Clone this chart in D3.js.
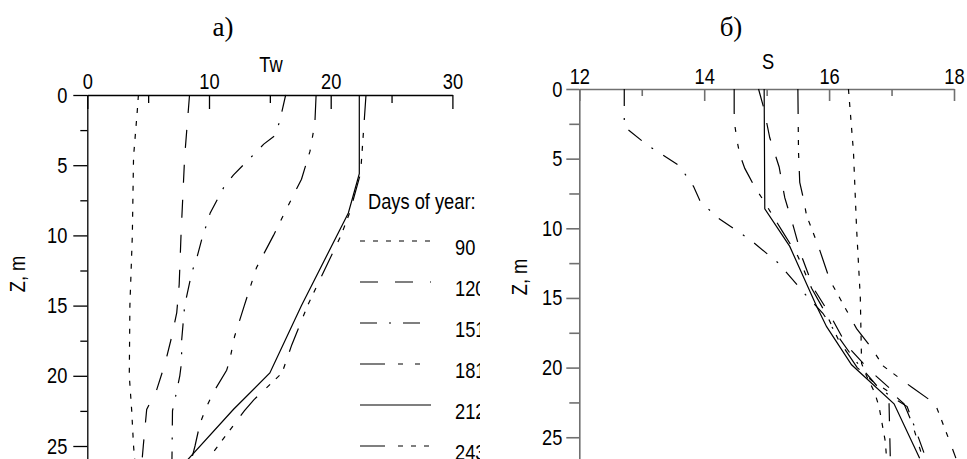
<!DOCTYPE html>
<html>
<head>
<meta charset="utf-8">
<script src="https://cdn.jsdelivr.net/npm/d3@7"></script>
<style>
  body { margin: 0; background: #fff; }
  svg { display: block; }
  .lbl { font-family: 'Liberation Sans', Arial, sans-serif; font-size: 22px; fill: #000; }
  .ttl { font-family: 'Liberation Serif', serif; font-size: 27px; fill: #000; }
</style>
</head>
<body>
<svg width="967" height="459"></svg>
<script>
// days of year (legend)
const days = [90, 120, 151, 181, 212, 243];

// a) water temperature profiles, [depth, Tw]
const tw90  = [[0,4.2],[1.2,4.1],[4.4,3.8],[10,3.7],[15,3.5],[20,3.45],[22.5,3.65],[25,3.8],[26.5,3.95]];
const tw120 = [[0,8.4],[4.4,8.0],[10,7.7],[13.5,7.55],[15.5,7.35],[17.2,6.94],[19.1,6.4],[21,5.7],[22.4,4.88],[25,4.6],[26.5,4.45]];
const tw151 = [[0,16.3],[1.9,15.8],[2.9,15.4],[3.5,14.5],[4.3,13.6],[5,12.8],[5.7,12.0],[6.6,11.2],[8.4,10.1],[10.3,9.4],[11.6,9.0],[12.6,8.6],[15,8.0],[17.5,7.75],[19,7.75],[20,7.6],[21.7,7.2],[22.5,7.0],[26.5,6.95]];
const tw181 = [[0,18.8],[2,18.7],[4,18.3],[6,17.6],[8.4,16.2],[10,15.3],[12.3,13.9],[15,12.9],[17.2,12.1],[18.9,11.7],[19.6,11.45],[21.2,10.35],[22.2,9.8],[23.4,9.26],[25,8.85],[26.5,8.4]];
const tw212 = [[0,22.35],[5.6,22.35],[8.4,21.45],[15,17.6],[19.8,15.0],[22.4,12.0],[26.5,7.7]];
const tw243 = [[0,22.9],[4.4,22.55],[5.6,22.45],[8.4,21.55],[10,20.85],[15,18.1],[17.8,16.8],[19.8,16.0],[21.7,13.7],[22.5,12.9],[25.5,10.3],[26.5,9.4]];

// б) salinity profiles, [depth, S]
const s90  = [[0,16.31],[4.5,16.39],[10,16.44],[15,16.5],[19.7,16.52],[20.6,16.6],[21.8,16.73],[22.8,16.8],[25.3,16.9],[26.5,16.92]];
const s120 = [[0,14.87],[1.3,14.95],[3.5,15.05],[5.6,15.2],[7.8,15.29],[9.9,15.43],[12,15.56],[14.3,15.75],[16.1,16.0],[18.4,16.28],[20.2,16.65],[21.6,17.0],[22.6,16.96],[26.5,16.98]];
const s151 = [[0,12.72],[2.7,12.72],[4,13.08],[5,13.43],[5.5,13.6],[7,13.83],[8,13.93],[9.2,14.2],[10.8,14.73],[12.5,15.19],[14.7,15.61],[16.1,15.9],[17.8,16.15],[19.5,16.42],[20.7,16.65],[21.5,16.8],[22.8,17.25],[26.5,17.55]];
const s181 = [[0,14.48],[1.7,14.48],[2.6,14.49],[3.8,14.53],[4.7,14.57],[5.7,14.65],[6.2,14.71],[7.05,14.81],[8,14.95],[8.9,15.07],[10.2,15.25],[12,15.5],[14.3,15.72],[16.3,15.97],[18,16.15],[20,16.45],[21,16.7],[22,17.05],[22.6,17.2],[24,17.33],[26.5,17.5]];
const s212 = [[0,14.96],[8.6,14.97],[11.3,15.37],[15.6,15.8],[17.06,15.96],[19.8,16.36],[22.6,17.04],[26.5,17.45]];
const s243 = [[0,15.5],[4.5,15.51],[6.7,15.53],[7.9,15.59],[9.1,15.64],[11.3,15.83],[13.7,16.01],[15.9,16.28],[17.2,16.44],[18.6,16.68],[19.9,16.87],[21.4,17.32],[22.6,17.7],[25.4,17.94],[26.5,18.03]];

const twSeries = [tw90, tw120, tw151, tw181, tw212, tw243];
const sSeries = [s90, s120, s151, s181, s212, s243];

// axis ticks
const twMajor = [0, 10, 20, 30], twMinor = [5, 15, 25];
const sMajor = [12, 14, 16, 18], sMinor = [13, 15, 17];
const zMajor = [0, 5, 10, 15, 20, 25], zMinor = [2.5, 7.5, 12.5, 17.5, 22.5];

// line styles, same order as days
const dashes = ["5,8", "18,17", "17,12,2,12", "25,13,5,12,5,12", null, "25,13,5,8,5,8,5,13"];

const svg = d3.select("svg");

svg.append("clipPath").attr("id", "clipL")
  .append("rect").attr("x", 0).attr("y", 0).attr("width", 480).attr("height", 459);

function panel(g, x, y, series, opt) {
  // x axis on top, ticks pointing into the plot
  g.append("g").attr("transform", `translate(0,${opt.top})`)
    .call(d3.axisTop(x).tickValues(opt.xMajor).tickFormat(d3.format("d")).tickSize(-opt.tk).tickPadding(opt.pad).tickSizeOuter(0))
    .call(a => a.selectAll("text").attr("class", "lbl").attr("font-size", null).attr("font-family", null));
  g.append("g").attr("transform", `translate(0,${opt.top})`)
    .call(d3.axisTop(x).tickValues(opt.xMinor).tickSize(-opt.tkm).tickFormat(""))
    .call(a => a.select(".domain").remove());

  g.append("g").attr("transform", `translate(${x.range()[0]},0)`)
    .call(d3.axisLeft(y).tickValues(zMajor).tickSize(opt.ytk).tickPadding(opt.ypad).tickSizeOuter(0))
    .call(a => a.selectAll("text").attr("class", "lbl").attr("font-size", null).attr("font-family", null));
  g.append("g").attr("transform", `translate(${x.range()[0]},0)`)
    .call(d3.axisLeft(y).tickValues(zMinor).tickSize(opt.ytkm).tickFormat(""))
    .call(a => a.select(".domain").remove());

  g.selectAll(".domain, .tick line").attr("stroke", opt.axisColor).attr("stroke-width", opt.axisWidth);

  const line = d3.line().x(d => x(d[1])).y(d => y(d[0]));
  g.selectAll("path.prof").data(series).enter().append("path")
    .attr("class", "prof")
    .attr("d", line)
    .attr("fill", "none")
    .attr("stroke", "#000")
    .attr("stroke-width", 1.2)
    .attr("stroke-dasharray", (d, i) => dashes[i]);
}

// a) panel
const xL = d3.scaleLinear().domain([0, 30]).range([87.3, 452.4]);
const yL = d3.scaleLinear().domain([0, 27]).range([95, 95 + 27 * 14.04]);
const gL = svg.append("g").attr("clip-path", "url(#clipL)");
panel(gL, xL, yL, twSeries, {top: 95, xMajor: twMajor, xMinor: twMinor, tk: 14, tkm: 8, pad: 6,
  ytk: 14, ytkm: 7, ypad: 6, axisColor: "#000", axisWidth: 1.3});

gL.append("text").attr("class", "ttl").attr("x", 223).attr("y", 36).attr("text-anchor", "middle").text("a)");
gL.append("text").attr("class", "lbl").attr("x", 271).attr("y", 72).attr("text-anchor", "middle").text("Tw");
gL.append("text").attr("class", "lbl").attr("transform", "translate(25,274) rotate(-90)")
  .attr("text-anchor", "middle").text("Z, m");

// legend
gL.append("text").attr("class", "lbl").attr("x", 368).attr("y", 209).text("Days of year:");
const leg = gL.selectAll("g.leg").data(days).enter().append("g").attr("class", "leg")
  .attr("transform", (d, i) => `translate(360,${241 + i * 41})`);
leg.append("line").attr("x1", 0).attr("x2", 71).attr("y1", 0).attr("y2", 0)
  .attr("stroke", "#000").attr("stroke-width", 1.2)
  .attr("stroke-dasharray", (d, i) => dashes[i]);
leg.append("text").attr("class", "lbl").attr("x", 95).attr("y", 14).text(d => d);

// б) panel
const xR = d3.scaleLinear().domain([12, 18]).range([579.3, 954]);
const yR = d3.scaleLinear().domain([0, 27]).range([89, 89 + 27 * 13.93]);
const gR = svg.append("g");
panel(gR, xR, yR, sSeries, {top: 89, xMajor: sMajor, xMinor: sMinor, tk: 12, tkm: 7, pad: 5,
  ytk: 13, ytkm: 10, ypad: 4, axisColor: "#707070", axisWidth: 1.6});

gR.append("text").attr("class", "ttl").attr("x", 731).attr("y", 36).attr("text-anchor", "middle").text("б)");
gR.append("text").attr("class", "lbl").attr("x", 768).attr("y", 69).attr("text-anchor", "middle").text("S");
gR.append("text").attr("class", "lbl").attr("transform", "translate(527,277) rotate(-90)")
  .attr("text-anchor", "middle").text("Z, m");

// the original lettering is a condensed sans: squeeze each label
svg.selectAll("text.lbl").each(function() {
  const w = this.getComputedTextLength();
  d3.select(this).attr("textLength", w * 0.83).attr("lengthAdjust", "spacingAndGlyphs");
});
</script>
</body>
</html>
